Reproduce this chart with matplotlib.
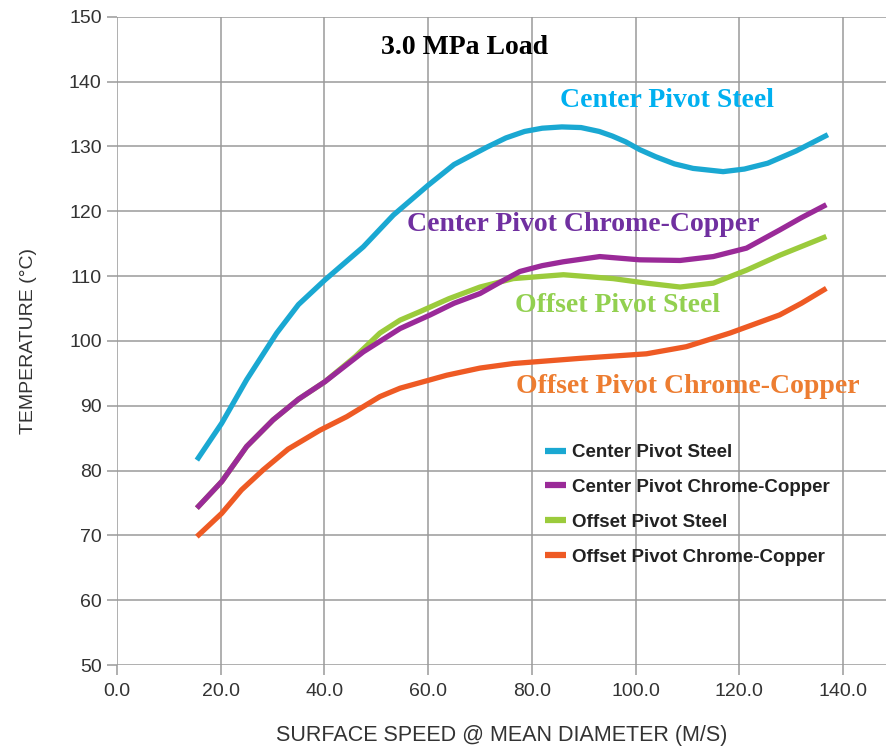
import matplotlib
matplotlib.use("Agg")
import matplotlib.pyplot as plt
from matplotlib.lines import Line2D

# ---- data ----
cps_x = [15.4, 20.2, 25, 30.8, 35, 40.1, 47.5, 53.3, 60, 65, 71.4, 75, 78.6, 82, 85.8, 89.5, 93, 95.5, 98.1, 100.8, 103.9, 107.5, 111.1, 116.9, 121, 125.5, 131, 137.1]
cps_y = [81.6, 87.3, 94.0, 101.2, 105.6, 109.4, 114.5, 119.4, 124.0, 127.2, 129.9, 131.3, 132.3, 132.8, 133.0, 132.9, 132.3, 131.6, 130.7, 129.5, 128.4, 127.3, 126.6, 126.1, 126.5, 127.4, 129.3, 131.8]

cpc_x = [15.4, 20.2, 25, 30.1, 35, 40.1, 47.5, 54.6, 60.4, 65, 70, 74, 77.7, 82, 86.1, 93.1, 100.8, 108.6, 115, 121.4, 127.8, 132, 136.8]
cpc_y = [74.2, 78.3, 83.7, 87.8, 91.0, 93.7, 98.3, 101.9, 104.0, 105.8, 107.3, 109.1, 110.7, 111.6, 112.2, 113.0, 112.5, 112.4, 113.0, 114.3, 117.1, 119.0, 121.0]

ops_x = [15.4, 20.2, 25, 30.1, 35, 40.1, 46, 50.7, 54.6, 58.4, 64, 70, 76.4, 86.1, 95.7, 102.1, 108.6, 115, 121.4, 127.8, 136.8]
ops_y = [74.2, 78.3, 83.7, 87.8, 91.0, 93.7, 97.6, 101.2, 103.2, 104.5, 106.5, 108.3, 109.6, 110.2, 109.6, 108.9, 108.3, 108.9, 110.9, 113.2, 116.1]

opc_x = [15.4, 20.2, 24, 28.2, 33, 39.1, 44.3, 50.7, 54.6, 63.6, 70, 76.4, 89.3, 102.1, 109.8, 118.2, 127.8, 132, 136.8]
opc_y = [69.8, 73.4, 77.0, 80.1, 83.3, 86.2, 88.3, 91.4, 92.7, 94.7, 95.8, 96.5, 97.3, 98.0, 99.1, 101.2, 104.0, 105.8, 108.1]

series_names = ["Center Pivot Steel", "Center Pivot Chrome-Copper",
                "Offset Pivot Steel", "Offset Pivot Chrome-Copper"]
x_ticks = [0, 20, 40, 60, 80, 100, 120, 140]
x_ticklabels = ["0.0", "20.0", "40.0", "60.0", "80.0", "100.0", "120.0", "140.0"]
y_ticks = [50, 60, 70, 80, 90, 100, 110, 120, 130, 140, 150]

line_colors = ["#1AA8D2", "#9A2A98", "#9BCB3C", "#EE5A24"]
text_colors = ["#00B0F0", "#7030A0", "#92D050", "#ED7D31"]

fig = plt.figure(figsize=(8.87, 7.46), dpi=100)
ax = fig.add_axes([117/887, 1-665/746, 1-117/887, (665-16.7)/746])

ax.set_xlim(0, 148.5)
ax.set_ylim(50, 150)

# grid
for xv in x_ticks:
    ax.axvline(xv, color="#9a9a9a", lw=1.1, zorder=1)
for yv in y_ticks:
    ax.axhline(yv, color="#9a9a9a", lw=1.1, zorder=1)

for s in ax.spines.values():
    s.set_visible(False)

ax.set_xticks(x_ticks)
ax.set_xticklabels(x_ticklabels)
ax.set_yticks(y_ticks)
ax.tick_params(axis="both", length=7, width=1.1, color="#9a9a9a",
               labelsize=14, labelcolor="#333333")
ax.tick_params(axis="x", pad=6)
ax.tick_params(axis="y", pad=4)
for lab in ax.get_xticklabels() + ax.get_yticklabels():
    lab.set_fontfamily("Liberation Sans")

# curves (green under purple)
lw = 3.8
kw = dict(lw=lw, solid_capstyle="butt", solid_joinstyle="round")
ax.plot(opc_x, opc_y, color=line_colors[3], zorder=3, **kw)
ax.plot(ops_x, ops_y, color=line_colors[2], zorder=3, **kw)
ax.plot(cpc_x, cpc_y, color=line_colors[1], zorder=4, **kw)
ax.plot(cps_x, cps_y, color=line_colors[0], zorder=4, **kw)

# labels
ax.set_xlabel("SURFACE SPEED @ MEAN DIAMETER (M/S)", fontsize=15.5,
              fontfamily="Liberation Sans", color="#333333", labelpad=18)
ax.set_ylabel("TEMPERATURE (°C)", fontsize=14, fontfamily="Liberation Sans",
              color="#333333", labelpad=23)

# annotations
serif = "Liberation Serif"
ax.text(67.1, 145.3, "3.0 MPa Load", fontsize=20, fontweight="bold",
        family=serif, color="black", ha="center", va="center", zorder=6)
ann_pos = [(106.1, 137.1), (89.9, 117.9), (96.6, 105.5), (110.1, 92.9)]
for (tx, ty), name, c in zip(ann_pos, series_names, text_colors):
    ax.text(tx, ty, name, fontsize=20, fontweight="bold", family=serif,
            color=c, ha="center", va="center", zorder=6)

# legend
handles = [Line2D([], [], color=c, lw=4.5, solid_capstyle="butt") for c in line_colors]
leg = ax.legend(handles, series_names, loc="upper left",
                bbox_to_anchor=(0.534, 0.367), frameon=False,
                handlelength=1.12, handletextpad=0.32, labelspacing=0.95,
                prop={"family": "Liberation Sans", "weight": "bold", "size": 13.5})
for t in leg.get_texts():
    t.set_color("#222222")

fig.savefig("out.png", dpi=100)
